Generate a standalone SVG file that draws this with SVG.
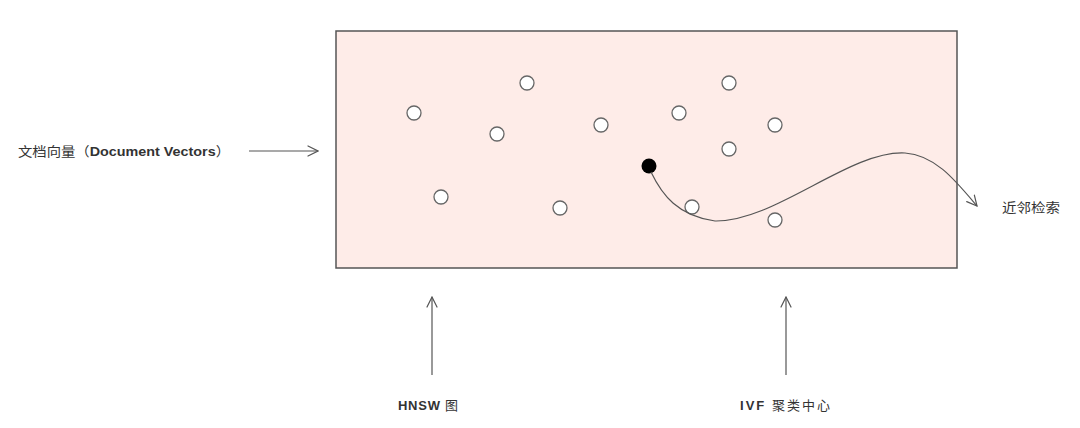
<svg xmlns="http://www.w3.org/2000/svg" width="1080" height="428" viewBox="0 0 1080 428">
<defs>
<marker id="open" viewBox="0 0 12 12" refX="11" refY="6" markerWidth="12" markerHeight="12" markerUnits="userSpaceOnUse" orient="auto">
<path d="M1,1 L11,6 L1,11" fill="none" stroke="#555" stroke-width="1.2" stroke-linecap="round"/>
</marker>
<style>
.t{font-family:"Liberation Sans","Noto Sans CJK SC",sans-serif;font-size:13px;fill:#333}
.pt{fill:#fff;stroke:#666;stroke-width:1.3}
.ln{fill:none;stroke:#555;stroke-width:1.2}
</style>
</defs>
<rect x="0" y="0" width="1080" height="428" fill="#fff"/>
<g id="space">
<rect x="336" y="31" width="621" height="237" fill="#FEECE8" stroke="#555" stroke-width="1.5"/>
</g>
<g id="points">
<circle class="pt" cx="414" cy="113" r="7"/>
<circle class="pt" cx="527" cy="83" r="7"/>
<circle class="pt" cx="497" cy="134" r="7"/>
<circle class="pt" cx="601" cy="125" r="7"/>
<circle class="pt" cx="441" cy="197" r="7"/>
<circle class="pt" cx="560" cy="208" r="7"/>
<circle class="pt" cx="729" cy="83" r="7"/>
<circle class="pt" cx="679" cy="113" r="7"/>
<circle class="pt" cx="775" cy="125" r="7"/>
<circle class="pt" cx="729" cy="149" r="7"/>
<circle class="pt" cx="692" cy="207" r="7"/>
<circle class="pt" cx="775" cy="220" r="7"/>
</g>
<g id="query">
<circle cx="649" cy="166" r="7.5" fill="#000"/>
</g>
<g id="connectors">
<path class="ln" d="M651,172 C662,195 678,216 715,221 C775,222 850,150 905,153 C935,155 955,180 977,206" marker-end="url(#open)"/>
<line class="ln" x1="249" y1="151" x2="318" y2="151" marker-end="url(#open)"/>
<line class="ln" x1="432" y1="375" x2="432" y2="297" marker-end="url(#open)"/>
<line class="ln" x1="786" y1="375" x2="786" y2="297" marker-end="url(#open)"/>
</g>
<g id="label-docs">
<text class="t" x="18" y="156" textLength="212" lengthAdjust="spacingAndGlyphs">文档向量（<tspan font-weight="bold">Document Vectors</tspan>）</text>
</g>
<g id="label-knn">
<text class="t" x="1002" y="212" font-size="14" textLength="58" lengthAdjust="spacingAndGlyphs">近邻检索</text>
</g>
<g id="label-hnsw">
<text class="t" x="398" y="410" textLength="60" lengthAdjust="spacing"><tspan font-weight="bold">HNSW</tspan> 图</text>
</g>
<g id="label-ivf">
<text class="t" x="740" y="410" textLength="90" lengthAdjust="spacing"><tspan font-weight="bold">IVF</tspan> 聚类中心</text>
</g>
</svg>
